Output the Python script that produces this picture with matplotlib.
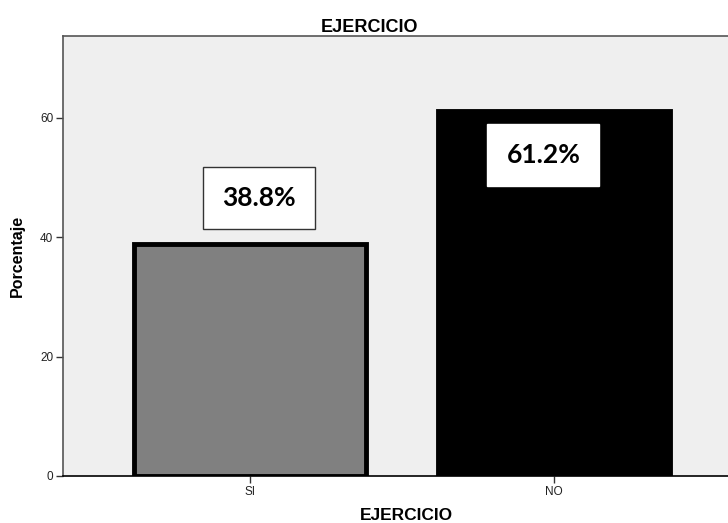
import matplotlib
matplotlib.use("Agg")
import matplotlib.pyplot as plt

categories = ["SI", "NO"]
percentages = [38.8, 61.2]
bar_colors = ["#808080", "#000000"]
value_labels = ["38.8%", "61.2%"]
yticks = [0, 20, 40, 60]

fig = plt.figure(figsize=(7.28, 5.23), dpi=100)
fig.patch.set_facecolor("white")
ax = fig.add_axes([63 / 728, 1 - 476 / 523, 678 / 728, 440 / 523])
ax.set_facecolor("#efefef")

x = list(range(len(categories)))
ax.bar(x, percentages, width=0.76, color=bar_colors, edgecolor="black",
       linewidth=3.5, zorder=2)

ax.set_xlim(-0.615, 1.615)
ax.set_ylim(0, 73.7)
ax.set_xticks(x)
ax.set_xticklabels(categories, fontsize=8.5, family="Liberation Sans", color="#222222")
ax.set_yticks(yticks)
ax.set_yticklabels([str(t) for t in yticks], fontsize=8.5, family="Liberation Sans",
                   color="#222222")
ax.tick_params(axis="both", direction="out", length=5, width=1, color="#333333", pad=2)

for side in ["left", "top", "right"]:
    ax.spines[side].set_color("#555555")
    ax.spines[side].set_linewidth(1.2)
ax.spines["bottom"].set_color("black")
ax.spines["bottom"].set_linewidth(1.2)

ax.set_title("EJERCICIO", fontsize=13, fontweight="bold", family="Liberation Sans",
             x=0.452, pad=2)
ax.set_xlabel("EJERCICIO", fontsize=12.5, fontweight="bold", family="Liberation Sans")
ax.xaxis.set_label_coords(0.506, -0.072)
ax.set_ylabel("Porcentaje", fontsize=11.5, fontweight="bold", family="Liberation Sans")
ax.yaxis.set_label_coords(-0.056, 0.5)

# Value boxes for each bar
label_pos = [(0.03, 46.6), (0.965, 53.8)]
label_edges = ["#333333", "white"]
for (lx, ly), txt, ec in zip(label_pos, value_labels, label_edges):
    ax.text(lx, ly, txt, ha="center", va="center", fontsize=19, fontweight="bold",
            family="Lato", color="black", zorder=4,
            bbox=dict(boxstyle="square,pad=0.72", facecolor="white", edgecolor=ec,
                      linewidth=1))

fig.savefig("out.png", dpi=100)
